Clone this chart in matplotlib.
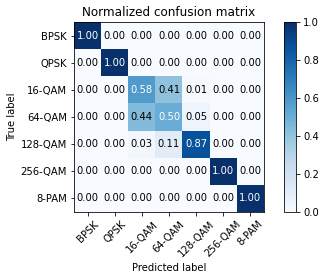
import numpy as np
import matplotlib
matplotlib.use("Agg")
import matplotlib.pyplot as plt

classes = ["BPSK", "QPSK", "16-QAM", "64-QAM", "128-QAM", "256-QAM", "8-PAM"]
cm = np.array([
    [1.00, 0.00, 0.00, 0.00, 0.00, 0.00, 0.00],
    [0.00, 1.00, 0.00, 0.00, 0.00, 0.00, 0.00],
    [0.00, 0.00, 0.58, 0.41, 0.01, 0.00, 0.00],
    [0.00, 0.00, 0.44, 0.504, 0.05, 0.00, 0.00],
    [0.00, 0.00, 0.03, 0.11, 0.87, 0.00, 0.00],
    [0.00, 0.00, 0.00, 0.00, 0.00, 1.00, 0.00],
    [0.00, 0.00, 0.00, 0.00, 0.00, 0.00, 1.00],
])

fig = plt.figure(figsize=(323/72, 280/72), dpi=72)
ax = fig.add_axes([74/323, 68/280, 190/323, 190/280])
cax = fig.add_axes([284/323, 68/280, 12/323, 190/280])
im = ax.imshow(cm, interpolation="nearest", cmap=plt.cm.Blues, vmin=0, vmax=1)
ax.set_title("Normalized confusion matrix", fontsize=12)
fig.colorbar(im, cax=cax)
ticks = np.arange(len(classes))
ax.set_xticks(ticks)
ax.set_xticklabels(classes, rotation=45)
ax.set_yticks(ticks)
ax.set_yticklabels(classes)
thresh = cm.max() / 2.0
for i in range(cm.shape[0]):
    for j in range(cm.shape[1]):
        ax.text(j, i, format(cm[i, j], ".2f"), ha="center", va="center",
                color="white" if cm[i, j] > thresh else "black", fontsize=10)
ax.set_ylabel("True label")
ax.set_xlabel("Predicted label")
fig.savefig("out.png", dpi=72)
